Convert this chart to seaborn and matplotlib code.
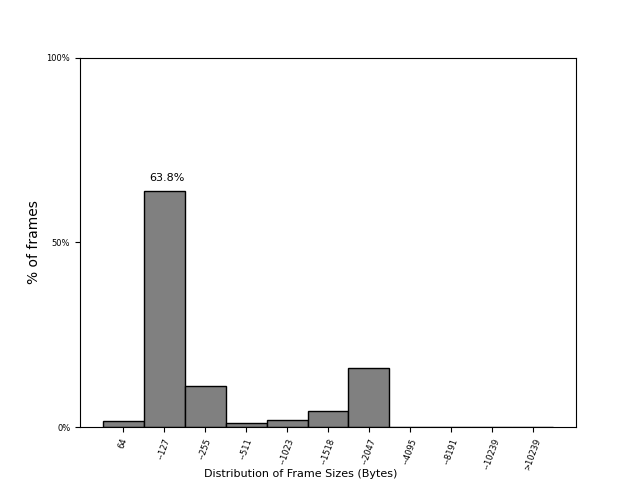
import matplotlib
matplotlib.use("Agg")
import matplotlib.pyplot as plt
import seaborn as sns
import pandas as pd
from matplotlib.ticker import FuncFormatter

size_bins = ["64", "--127", "--255", "--511", "--1023", "--1518", "--2047",
             "--4095", "--8191", "--10239", ">10239"]
pct_frames = [1.6, 63.8, 11.1, 1.1, 1.9, 4.3, 16.0, 0.0, 0.0, 0.0, 0.0]

df = pd.DataFrame({"bin": size_bins, "pct": pct_frames})

fig, ax = plt.subplots(figsize=(6.4, 4.8), dpi=100)
sns.barplot(data=df, x="bin", y="pct", color="grey", saturation=1,
            width=1.0, edgecolor="black", linewidth=1.0, ax=ax)
ax.set_xlim(-1.05, 11.05)
ax.set_ylim(0, 100)
ax.set_yticks([0, 50, 100])
ax.yaxis.set_major_formatter(FuncFormatter(lambda v, p: f"{v:.0f}%"))
ax.tick_params(axis="y", labelsize=6)
ax.tick_params(axis="x", labelsize=6, labelrotation=70)
ax.set_xlabel("Distribution of Frame Sizes (Bytes)", fontsize=8)
# label sits a bit left of centre in the original
ax.xaxis.set_label_coords(0.444, -0.113)
ax.set_ylabel("% of frames", fontsize=10)

top = max(pct_frames)
i = pct_frames.index(top)
ax.annotate(f"{top}%", (i, top), xytext=(2, 6), textcoords="offset points",
            ha="center", va="bottom", fontsize=8)

plt.savefig("out.png")
